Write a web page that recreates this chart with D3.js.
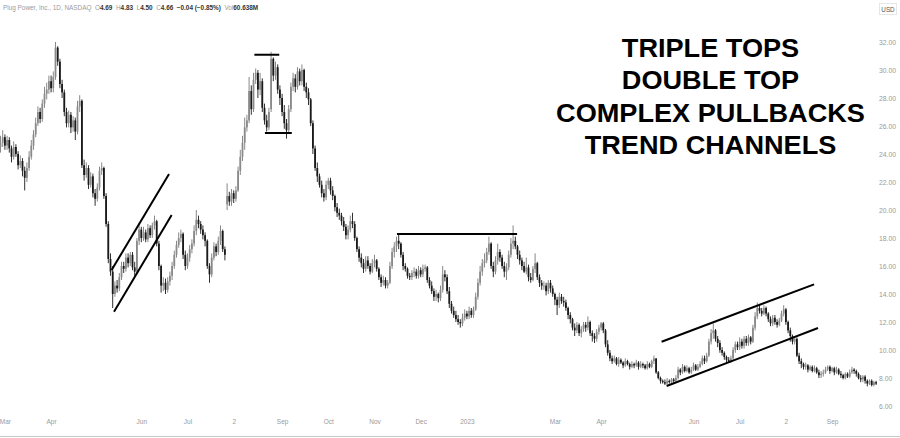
<!DOCTYPE html>
<html><head><meta charset="utf-8">
<script src="https://cdn.jsdelivr.net/npm/d3@7"></script>
<style>html,body{margin:0;padding:0;background:#fff;}svg{display:block;}</style>
</head><body>
<script>
const openP = [
24.5,24.8,25.2,24.6,25.0,24.4,23.8,24.5,24.0,23.2, 23.5,22.8,22.3,23.0,23.8,24.6,25.4,26.2,27.0,26.5,
27.6,28.3,28.6,29.2,28.7,29.5,31.6,30.6,29.0,28.4, 27.0,26.2,26.8,25.9,26.4,25.6,27.4,27.8,23.2,22.5,
23.0,21.8,22.4,21.2,20.8,21.6,22.8,23.0,21.0,19.0, 16.5,15.6,14.0,14.6,14.4,15.2,16.0,15.8,16.6,16.2,
16.8,15.9,15.6,17.8,18.6,18.0,18.4,17.9,18.7,18.2, 18.9,19.2,17.6,16.0,14.6,14.8,14.3,14.9,15.3,16.0,
16.8,17.5,18.0,18.3,16.8,16.0,16.6,17.2,17.6,18.5, 19.3,19.0,18.6,18.2,17.8,16.0,15.4,16.6,17.4,17.0,
17.8,18.5,17.2,20.4,21.0,20.6,21.2,20.8,21.4,22.8, 23.8,24.8,25.9,26.4,28.5,27.2,29.3,29.8,28.6,29.2,
27.3,26.4,25.9,27.2,30.8,29.6,30.2,28.6,28.0,27.0, 26.2,25.7,27.2,28.8,29.4,28.8,29.9,29.2,30.0,28.8,
28.4,27.9,26.2,24.4,23.0,22.4,21.8,21.2,20.9,21.8, 22.1,21.4,21.0,20.2,19.8,19.6,19.2,18.8,18.2,18.6,
19.2,19.0,18.0,17.2,16.6,16.2,15.8,16.4,16.0,15.6, 16.2,16.4,15.8,15.2,14.8,15.0,14.6,14.8,16.0,17.0,
17.4,17.8,17.6,16.8,16.0,15.8,15.3,15.2,15.5,15.6, 15.3,15.7,15.4,15.8,15.9,15.0,14.6,14.2,13.8,14.0,
13.7,14.3,15.4,15.2,14.2,13.3,12.8,12.5,12.2,12.0, 11.9,12.3,12.6,12.4,12.8,12.5,12.9,13.8,14.8,15.6,
16.2,16.4,17.0,17.6,16.0,15.6,16.4,17.0,16.6,16.0, 15.6,15.9,16.8,17.6,17.8,17.4,16.8,16.4,16.0,15.6,
15.9,15.2,15.0,15.8,16.2,15.2,14.8,14.6,14.6,14.2, 14.8,14.4,14.0,13.6,13.2,13.8,13.5,13.4,13.0,12.5,
12.2,11.6,11.4,11.8,11.2,11.5,11.8,11.6,12.0,11.2, 11.0,10.8,11.3,11.6,11.9,11.4,10.4,9.8,9.4,9.2,
9.4,9.0,9.3,9.1,8.9,9.2,9.0,8.8,9.0,8.9, 9.1,8.8,9.0,8.9,8.7,9.0,8.8,9.2,9.4,8.4,
8.0,7.8,7.7,7.6,7.8,7.7,7.9,7.8,8.0,8.6, 8.4,8.8,8.5,8.7,8.4,8.6,8.9,8.6,8.8,9.0,
9.4,9.2,9.6,10.6,11.2,11.4,10.8,10.5,10.0,9.8, 9.5,9.3,9.2,9.4,10.0,10.4,10.2,10.6,10.3,10.8,
10.5,10.9,10.6,11.6,12.4,13.0,12.8,12.6,13.0,12.6, 12.2,11.9,12.3,12.0,11.8,12.1,12.6,12.9,12.0,11.4,
11.0,10.6,10.8,9.6,9.2,9.0,8.8,8.9,8.6,8.8, 8.5,8.7,8.4,8.2,8.3,8.4,8.6,8.8,8.5,8.7,
8.4,8.6,8.3,8.2,8.0,8.3,8.1,8.4,8.6,8.5, 8.3,8.0,7.9,8.1,7.8,7.6,7.8,7.5,7.7
];
const highP = [
25.3,25.7,25.4,25.3,25.2,24.6,24.9,24.7,24.2,23.9, 23.7,23.1,23.4,24.2,25.0,25.7,26.6,27.4,27.3,27.9,
28.8,29.1,29.6,29.6,29.9,32.0,31.7,30.8,29.3,28.6, 27.3,27.1,27.0,26.7,26.6,27.8,28.2,27.9,23.6,23.4,
23.2,22.7,22.6,21.5,21.9,23.1,23.4,23.1,21.2,19.2, 16.9,16.0,14.9,15.0,15.5,16.3,16.3,16.9,16.9,17.0,
17.0,16.3,18.0,19.1,18.8,18.8,18.6,19.0,18.9,19.1, 19.6,19.3,17.8,16.1,15.2,15.1,15.2,15.6,16.3,17.1,
17.8,18.4,18.6,18.4,17.1,16.9,17.5,17.9,18.9,20.0, 19.6,19.2,18.9,18.4,17.9,16.2,16.9,17.7,17.6,18.1,
18.9,18.6,17.4,21.9,21.3,21.5,21.4,21.7,23.1,24.3, 25.3,26.6,26.8,29.5,28.9,29.8,30.1,30.0,29.8,29.4,
27.6,26.8,27.3,31.3,30.9,30.6,30.4,28.9,28.3,27.5, 26.5,27.5,29.1,29.8,29.7,30.2,30.1,30.4,30.1,29.1,
28.7,28.0,26.4,24.6,23.4,22.6,22.1,21.5,22.1,22.3, 22.3,21.7,21.1,20.5,20.1,19.8,19.5,19.0,18.9,19.6,
19.8,19.2,18.1,17.4,16.9,16.5,16.7,16.7,16.2,16.5, 16.8,16.5,15.9,15.4,15.3,15.2,15.0,16.3,17.3,17.7,
18.1,18.3,17.7,17.0,16.2,15.9,15.5,15.7,15.9,15.8, 16.0,15.9,16.1,16.1,16.0,15.2,14.9,14.4,14.3,14.1,
14.6,16.0,15.7,15.4,14.5,13.5,13.1,12.8,12.5,12.2, 12.6,12.9,12.8,13.1,13.0,13.1,14.1,15.1,16.0,16.5,
16.9,17.3,18.1,17.7,16.3,16.7,17.6,17.2,16.8,16.3, 16.2,17.1,18.0,18.9,18.1,17.5,17.1,16.6,16.3,16.6,
16.1,15.5,16.0,16.9,16.3,15.4,15.0,14.9,14.8,15.0, 15.0,14.6,14.1,13.8,14.1,14.0,13.8,13.6,13.1,12.7,
12.3,11.9,12.0,11.9,11.7,12.0,12.0,12.4,12.1,11.4, 11.2,11.5,11.8,12.0,12.0,11.5,10.7,10.0,9.6,9.6,
9.5,9.5,9.4,9.2,9.4,9.3,9.1,9.2,9.1,9.3, 9.2,9.2,9.1,9.0,9.2,9.1,9.3,9.6,9.4,8.5,
8.1,7.9,7.9,8.0,7.9,8.0,8.0,8.2,8.8,8.7, 9.0,8.9,8.9,8.8,8.8,9.1,9.0,9.0,9.2,9.6,
9.6,9.8,10.8,11.5,11.9,11.5,11.0,10.7,10.2,9.9, 9.6,9.5,9.6,10.2,10.6,10.6,10.9,10.8,11.0,11.0,
11.1,11.0,11.8,12.7,13.4,13.2,13.0,13.2,13.1,12.7, 12.4,12.5,12.5,12.2,12.3,12.8,13.2,13.0,12.1,11.6,
11.1,10.9,10.9,9.8,9.4,9.1,9.1,9.0,8.9,8.9, 8.9,8.8,8.6,8.5,8.6,8.8,8.9,8.9,8.8,8.8,
8.8,8.7,8.5,8.3,8.4,8.4,8.6,8.8,8.7,8.6, 8.4,8.2,8.2,8.2,7.9,7.9,7.9,7.8,7.8
];
const lowP = [
24.1,24.5,24.3,24.3,24.1,23.4,23.6,23.8,22.9,23.0, 22.4,21.4,22.0,22.8,23.6,24.3,25.2,26.0,26.2,26.3,
27.3,27.9,28.3,28.4,28.4,29.3,30.3,28.7,28.0,26.7, 25.9,25.9,25.5,25.6,25.0,25.4,27.0,23.0,22.1,22.3,
21.5,21.6,20.9,20.3,20.6,21.4,22.5,20.8,18.8,16.2, 15.3,13.0,13.8,14.1,14.2,15.0,15.5,15.6,15.9,16.0,
15.7,15.3,15.5,17.5,17.7,17.8,17.7,17.7,18.0,18.0, 18.6,17.4,15.7,14.1,14.2,14.0,14.1,14.6,15.0,15.8,
16.6,17.3,17.7,16.5,15.7,15.8,16.3,16.9,17.4,18.2, 18.7,18.3,17.9,17.4,15.8,14.8,15.2,16.4,16.7,16.8,
17.5,17.0,16.4,20.0,20.3,20.3,20.5,20.6,21.3,22.5, 23.5,24.3,25.6,26.2,26.8,27.0,29.0,28.0,28.2,27.0,
26.1,25.6,25.7,27.0,29.2,29.3,28.3,27.5,26.7,25.8, 25.1,25.5,27.0,28.5,28.4,28.6,28.9,28.9,28.5,28.0,
27.5,26.0,24.0,22.8,22.0,21.6,20.9,20.6,20.7,21.5, 21.1,20.7,19.9,19.5,19.3,18.9,18.5,17.9,17.9,18.4,
18.7,17.8,17.0,16.3,15.9,15.5,15.6,15.8,15.4,15.5, 15.9,15.6,15.0,14.5,14.6,14.4,14.4,14.7,15.8,16.6,
17.0,17.2,16.6,15.7,15.6,15.1,15.0,15.0,15.2,15.1, 15.1,15.2,15.2,15.6,14.8,14.4,14.0,13.5,13.5,13.4,
13.5,14.1,14.9,14.0,13.0,12.6,12.3,12.0,11.8,11.6, 11.7,12.1,12.2,12.2,12.3,12.3,12.8,13.6,14.6,15.3,
15.9,16.2,16.8,15.8,15.2,15.4,16.1,16.3,15.8,15.2, 15.0,15.7,16.6,17.2,17.2,16.5,16.1,15.7,15.5,15.4,
14.9,14.8,14.9,15.5,15.0,14.5,14.3,14.3,13.9,14.0, 14.1,13.8,13.2,12.5,13.0,13.3,13.1,12.8,12.2,11.9,
11.4,11.0,11.2,11.0,10.9,11.3,11.3,11.4,11.0,10.6, 10.5,10.6,11.1,11.4,11.2,10.2,9.6,9.2,9.0,9.1,
8.9,8.8,9.0,8.7,8.8,8.9,8.6,8.7,8.7,8.8, 8.6,8.7,8.7,8.6,8.6,8.7,8.7,9.0,8.3,7.9,
7.6,7.6,7.5,7.5,7.6,7.6,7.6,7.7,7.9,8.2, 8.3,8.4,8.4,8.3,8.3,8.5,8.5,8.5,8.7,8.9,
9.0,9.1,9.5,10.4,10.8,10.6,10.2,9.8,9.6,9.3, 9.1,9.1,9.1,9.3,9.8,10.0,10.0,10.1,10.1,10.3,
10.3,10.4,10.5,11.4,12.2,12.6,12.4,12.5,12.4,12.0, 11.7,11.7,11.8,11.6,11.7,12.0,12.4,11.8,11.2,10.6,
10.4,10.4,9.5,9.0,8.7,8.6,8.6,8.4,8.5,8.4, 8.4,8.3,8.0,8.0,8.1,8.3,8.5,8.3,8.4,8.2,
8.3,8.2,8.0,7.9,7.9,8.0,8.0,8.3,8.3,8.1, 7.9,7.7,7.7,7.6,7.4,7.5,7.4,7.4,7.5
];
const closeP = [
24.8,25.2,24.6,25.0,24.4,23.8,24.5,24.0,23.2,23.5, 22.8,22.3,23.0,23.8,24.6,25.4,26.2,27.0,26.5,27.6,
28.3,28.6,29.2,28.7,29.5,31.6,30.6,29.0,28.4,27.0, 26.2,26.8,25.9,26.4,25.6,27.4,27.8,23.2,22.5,23.0,
21.8,22.4,21.2,20.8,21.6,22.8,23.0,21.0,19.0,16.5, 15.6,14.0,14.6,14.4,15.2,16.0,15.8,16.6,16.2,16.8,
15.9,15.6,17.8,18.6,18.0,18.4,17.9,18.7,18.2,18.9, 19.2,17.6,16.0,14.6,14.8,14.3,14.9,15.3,16.0,16.8,
17.5,18.0,18.3,16.8,16.0,16.6,17.2,17.6,18.5,19.3, 19.0,18.6,18.2,17.8,16.0,15.4,16.6,17.4,17.0,17.8,
18.5,17.2,16.8,21.0,20.6,21.2,20.8,21.4,22.8,23.8, 24.8,25.9,26.4,28.5,27.2,29.3,29.8,28.6,29.2,27.3,
26.4,25.9,27.0,30.8,29.6,30.2,28.6,28.0,27.0,26.2, 25.7,27.2,28.8,29.4,28.8,29.9,29.2,30.0,28.8,28.4,
27.9,26.2,24.4,23.0,22.4,21.8,21.2,20.9,21.8,22.1, 21.4,21.0,20.2,19.8,19.6,19.2,18.8,18.2,18.6,19.2,
19.0,18.0,17.2,16.6,16.2,15.8,16.4,16.0,15.6,16.2, 16.4,15.8,15.2,14.8,15.0,14.6,14.8,16.0,17.0,17.4,
17.8,17.6,16.8,16.0,15.8,15.3,15.2,15.5,15.6,15.3, 15.7,15.4,15.8,15.9,15.0,14.6,14.2,13.8,14.0,13.7,
14.3,15.4,15.2,14.2,13.3,12.8,12.5,12.2,12.0,11.9, 12.3,12.6,12.4,12.8,12.5,12.9,13.8,14.8,15.6,16.2,
16.4,17.0,17.6,16.0,15.6,16.4,17.0,16.6,16.0,15.6, 15.9,16.8,17.6,17.8,17.4,16.8,16.4,16.0,15.6,15.9,
15.2,15.0,15.8,16.2,15.2,14.8,14.6,14.6,14.2,14.8, 14.4,14.0,13.6,13.2,13.8,13.5,13.4,13.0,12.5,12.2,
11.6,11.4,11.8,11.2,11.5,11.8,11.6,12.0,11.2,11.0, 10.8,11.3,11.6,11.9,11.4,10.4,9.8,9.4,9.2,9.4,
9.0,9.3,9.1,8.9,9.2,9.0,8.8,9.0,8.9,9.1, 8.8,9.0,8.9,8.7,9.0,8.8,9.2,9.4,8.4,8.0,
7.8,7.7,7.6,7.8,7.7,7.9,7.8,8.0,8.6,8.4, 8.8,8.5,8.7,8.4,8.6,8.9,8.6,8.8,9.0,9.4,
9.2,9.6,10.6,11.2,11.4,10.8,10.5,10.0,9.8,9.5, 9.3,9.2,9.4,10.0,10.4,10.2,10.6,10.3,10.8,10.5,
10.9,10.6,11.6,12.4,13.0,12.8,12.6,13.0,12.6,12.2, 11.9,12.3,12.0,11.8,12.1,12.6,12.9,12.0,11.4,11.0,
10.6,10.8,9.6,9.2,9.0,8.8,8.9,8.6,8.8,8.5, 8.7,8.4,8.2,8.3,8.4,8.6,8.8,8.5,8.7,8.4,
8.6,8.3,8.2,8.0,8.3,8.1,8.4,8.6,8.5,8.3, 8.0,7.9,8.1,7.8,7.6,7.8,7.5,7.7,7.6
];

// month tick labels (trading-day index of each labelled month start)
const tickLabels = ["Mar","Apr","Jun","Jul","2","Sep","Oct","Nov","Dec","2023","Mar","Apr","Jun","Jul","2","Sep"];
const tickIndex  = [2,23,64,85,106,128,149,170,191,212,252,273,315,336,357,378];
const priceTicks = [6,8,10,12,14,16,18,20,22,24,26,28,30,32];

// annotation lines: [startIndex, startPrice, endIndex, endPrice]
const channel1Upper = [50.5, 15.71, 76.6, 22.57];
const channel1Lower = [51.6, 12.74, 77.8, 19.64];
const doubleTopHigh = [115.4, 31.09, 126.7, 31.09];
const doubleTopLow  = [120.2, 25.5, 132.4, 25.5];
const tripleTopLine = [180.2, 18.29, 234.8, 18.29];
const channel2Upper = [300.5, 10.59, 369.8, 14.69];
const channel2Lower = [302.8, 7.43, 371.6, 11.57];

const titleLines = ["TRIPLE TOPS","DOUBLE TOP","COMPLEX PULLBACKS","TREND CHANNELS"];
const headerParts = [
  ["Plug Power, Inc., 1D, NASDAQ  ", "#9a9a9a"], ["O","#9a9a9a"],["4.69  ","#333"],
  ["H","#9a9a9a"],["4.83  ","#333"],["L","#9a9a9a"],["4.50  ","#333"],["C","#9a9a9a"],["4.66  ","#333"],
  ["\u22120.04 (\u22120.85%)  ","#333"],["Vol","#9a9a9a"],["60.638M","#333"]
];

const W = 900, H = 438;
const svg = d3.select("body").append("svg").attr("width", W).attr("height", H);

const x = d3.scaleLinear().domain([0, 398]).range([0.5, 876.1]);
const y = d3.scaleLinear().domain([6, 32]).range([406, 42]);

// bottom time axis line
svg.append("line").attr("x1",0).attr("x2",W).attr("y1",436.5).attr("y2",436.5)
  .attr("stroke","#c8c8c8").attr("stroke-width",1);

// time axis labels
const xAxis = d3.axisBottom(x).tickValues(tickIndex).tickSize(0)
  .tickFormat((d,i) => tickLabels[i]);
const gx = svg.append("g").attr("transform","translate(0,416)").call(xAxis);
gx.select(".domain").remove();
gx.selectAll("text").attr("fill","#9a9a9a").attr("font-size","6.5px")
  .attr("font-family","Liberation Sans, Arial, sans-serif");

// price axis labels
const yAxis = d3.axisRight(y).tickValues(priceTicks).tickSize(0)
  .tickFormat(d3.format(".2f"));
const gy = svg.append("g").attr("transform","translate(876,0)").call(yAxis);
gy.select(".domain").remove();
gy.selectAll("text").attr("fill","#9a9a9a").attr("font-size","6.8px")
  .attr("font-family","Liberation Sans, Arial, sans-serif");

// USD label
svg.append("rect").attr("x",879.5).attr("y",3.5).attr("width",17).attr("height",11)
  .attr("fill","#fff").attr("stroke","#e6e6e6");
svg.append("text").attr("x",888).attr("y",11.5).attr("text-anchor","middle")
  .attr("font-size","6.3px").attr("fill","#555")
  .attr("font-family","Liberation Sans, Arial, sans-serif").text("USD");

// header
const ht = svg.append("text").attr("x",3).attr("y",9.5).attr("font-size","6.4px")
  .attr("font-family","Liberation Sans, Arial, sans-serif").attr("xml:space","preserve");
headerParts.forEach(p => ht.append("tspan").attr("fill",p[1])
  .attr("font-weight", p[1]==="#333" ? "bold" : "normal").text(p[0]));

// candles
const bars = d3.range(closeP.length).map(i => ({i, o:openP[i], h:highP[i], l:lowP[i], c:closeP[i]}));
const g = svg.append("g");
g.selectAll("line.wick").data(bars).enter().append("line").attr("class","wick")
  .attr("x1", d => x(d.i)).attr("x2", d => x(d.i))
  .attr("y1", d => y(d.h)).attr("y2", d => y(d.l))
  .attr("stroke", d => d.c >= d.o ? "#7a7a7a" : "#1a1a1a").attr("stroke-width",0.9);
g.selectAll("rect.body").data(bars).enter().append("rect").attr("class","body")
  .attr("x", d => x(d.i) - 0.9).attr("width", 1.8)
  .attr("y", d => y(Math.max(d.o,d.c)))
  .attr("height", d => Math.max(0.8, Math.abs(y(d.o) - y(d.c))))
  .attr("fill", d => d.c >= d.o ? "#8a8a8a" : "#1a1a1a");

// annotation lines
[channel1Upper, channel1Lower, doubleTopHigh, doubleTopLow, tripleTopLine, channel2Upper, channel2Lower]
  .forEach(s => svg.append("line")
    .attr("x1", x(s[0])).attr("y1", y(s[1])).attr("x2", x(s[2])).attr("y2", y(s[3]))
    .attr("stroke","#000").attr("stroke-width",2));

// title block (slightly widened bold sans, centred at x=710.5)
svg.append("g").attr("transform","translate(710.5,0) scale(1.085,1)")
  .selectAll("text").data(titleLines).enter().append("text")
  .attr("x",0).attr("y",(d,i) => 56.7 + i*32.5)
  .attr("text-anchor","middle").attr("font-size","25px").attr("font-weight","bold")
  .attr("font-family","Liberation Sans, Arial, sans-serif").attr("fill","#000")
  .text(d => d);
</script>
</body></html>
